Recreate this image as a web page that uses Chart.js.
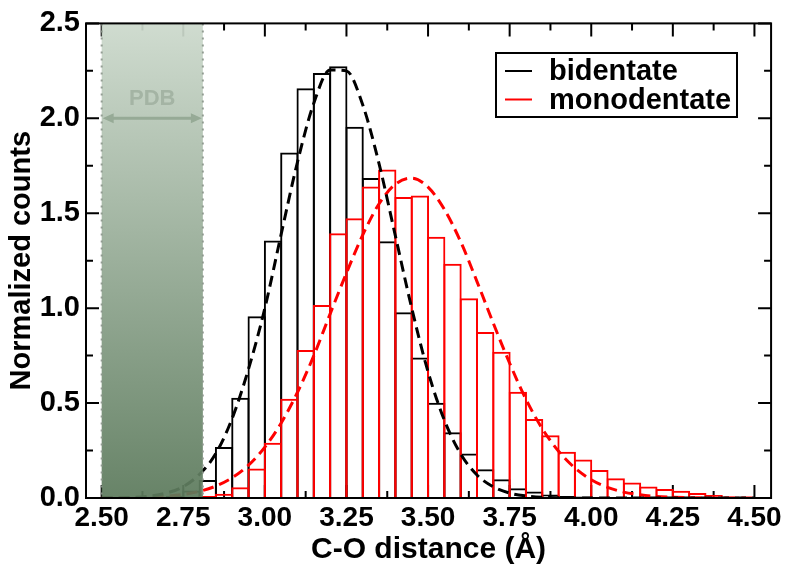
<!DOCTYPE html>
<html>
<head>
<meta charset="utf-8">
<script src="https://cdn.jsdelivr.net/npm/chart.js@4.4.1/dist/chart.umd.min.js"></script>
<style>
html,body{margin:0;padding:0;background:#fff;}
#wrap{width:785px;height:569px;}
</style>
</head>
<body>
<div id="wrap"><canvas id="c" width="785" height="569"></canvas></div>
<script>
// ---- data ----
const seriesLabels = ['bidentate', 'monodentate'];
const binCenters = [2.725, 2.775, 2.825, 2.875, 2.925, 2.975, 3.025, 3.075, 3.125, 3.175,
  3.225, 3.275, 3.325, 3.375, 3.425, 3.475, 3.525, 3.575, 3.625, 3.675,
  3.725, 3.775, 3.825, 3.875, 3.925, 3.975, 4.025, 4.075, 4.125, 4.175,
  4.225, 4.275, 4.325, 4.375, 4.425, 4.475, 4.525];
const bidentateCounts = [0.01, 0.04, 0.095, 0.268, 0.528, 0.958, 1.357, 1.82, 2.158, 2.239,
  2.274, 1.955, 1.686, 1.352, 0.979, 0.74, 0.502, 0.346, 0.234, 0.151,
  0.099, 0.052, 0.034, 0.018, 0.01, 0.008, 0.005, 0.003, 0.002, 0.001,
  0.001, null, null, null, null, null, null];
const monodentateCounts = [null, 0.005, 0.01, 0.022, 0.057, 0.156, 0.291, 0.523, 0.78, 1.017,
  1.395, 1.473, 1.641, 1.73, 1.586, 1.593, 1.376, 1.234, 1.052, 0.874,
  0.771, 0.56, 0.416, 0.331, 0.244, 0.203, 0.147, 0.104, 0.081, 0.06,
  0.047, 0.038, 0.026, 0.016, 0.008, 0.004, 0.002];
const fitX = [2.50, 2.55, 2.60, 2.65, 2.70, 2.75, 2.80, 2.85, 2.90, 2.95,
  3.00, 3.05, 3.10, 3.15, 3.20, 3.25, 3.30, 3.35, 3.40, 3.45,
  3.50, 3.55, 3.60, 3.65, 3.70, 3.75, 3.80, 3.85, 3.90, 3.95,
  4.00, 4.05, 4.10, 4.15, 4.20, 4.25, 4.30, 4.35, 4.40, 4.45, 4.50];
const bidentateFit = [0.0005, 0.0015, 0.004, 0.011, 0.027, 0.06, 0.125, 0.235, 0.42, 0.68,
  1.0, 1.39, 1.77, 2.08, 2.255, 2.25, 2.07, 1.76, 1.38, 1.0,
  0.665, 0.41, 0.232, 0.121, 0.059, 0.026, 0.011, 0.004, 0.0015, 0.0005,
  0.0002, 0, 0, 0, 0, 0, 0, 0, 0, 0, 0];
const monodentateFit = [0.0004, 0.001, 0.002, 0.005, 0.01, 0.019, 0.035, 0.063, 0.107, 0.173,
  0.268, 0.395, 0.557, 0.75, 0.97, 1.185, 1.386, 1.55, 1.653, 1.685,
  1.638, 1.52, 1.35, 1.14, 0.92, 0.71, 0.52, 0.365, 0.246, 0.158,
  0.096, 0.056, 0.031, 0.017, 0.008, 0.004, 0.002, 0.001, 0.0004, 0.0002, 0.0001];
const xMajorTicks = [2.50, 2.75, 3.00, 3.25, 3.50, 3.75, 4.00, 4.25, 4.50];
const xMinorTicks = [2.625, 2.875, 3.125, 3.375, 3.625, 3.875, 4.125, 4.375];
const yMajorTicks = [0.0, 0.5, 1.0, 1.5, 2.0, 2.5];
const yMinorTicks = [0.25, 0.75, 1.25, 1.75, 2.25];
const xRange = [2.452, 4.551];
const yRange = [0, 2.5];
const pdbRange = [2.50, 2.81];
const pdbText = 'PDB';
const pdbLabelY = 2.10;
const pdbArrowY = 2.0;
const xTitle = 'C-O distance (Å)';
const yTitle = 'Normalized counts';

// ---- style ----
const FONT = "'Liberation Sans', Arial, Helvetica, sans-serif";
const RED = '#ff0000';
const BLACK = '#000000';
const BAR_LINE = 2;

const allX = xMajorTicks.concat(xMinorTicks).sort((a, b) => a - b);
const allY = yMajorTicks.concat(yMinorTicks).sort((a, b) => a - b);

const frameTicks = {
  id: 'frameTicks',
  beforeDatasetsDraw(chart) {
    const {ctx, chartArea: a, scales: {x, y}} = chart;
    ctx.save();
    ctx.strokeStyle = '#000';
    ctx.lineWidth = 2;
    ctx.beginPath();
    allX.forEach(v => {
      const p = x.getPixelForValue(v);
      const L = xMajorTicks.includes(v) ? 13 : 7;
      ctx.moveTo(p, a.bottom); ctx.lineTo(p, a.bottom - L);
      ctx.moveTo(p, a.top); ctx.lineTo(p, a.top + L);
    });
    allY.forEach(v => {
      const p = y.getPixelForValue(v);
      const L = yMajorTicks.includes(v) ? 13 : 7;
      ctx.moveTo(a.left, p); ctx.lineTo(a.left + L, p);
      ctx.moveTo(a.right, p); ctx.lineTo(a.right - L, p);
    });
    ctx.stroke();
    ctx.restore();
  },
  afterDatasetsDraw(chart) {
    const {ctx, chartArea: a, scales: {x, y}} = chart;
    const x0 = x.getPixelForValue(pdbRange[0]);
    const x1 = x.getPixelForValue(pdbRange[1]);
    ctx.save();
    const g = ctx.createLinearGradient(0, a.top, 0, a.bottom);
    g.addColorStop(0, 'rgba(204,217,204,0.93)');
    g.addColorStop(1, 'rgba(92,122,92,0.93)');
    ctx.fillStyle = g;
    ctx.fillRect(x0, a.top, x1 - x0, a.bottom - a.top);
    ctx.setLineDash([2, 5]);
    ctx.strokeStyle = 'rgba(140,150,140,0.9)';
    ctx.lineWidth = 2;
    ctx.beginPath();
    ctx.moveTo(x0, a.top); ctx.lineTo(x0, a.bottom);
    ctx.moveTo(x1, a.top); ctx.lineTo(x1, a.bottom);
    ctx.stroke();
    ctx.setLineDash([]);
    ctx.fillStyle = 'rgb(164,180,164)';
    ctx.font = 'bold 22px ' + FONT;
    ctx.textAlign = 'center';
    ctx.textBaseline = 'middle';
    ctx.fillText(pdbText, (x0 + x1) / 2, y.getPixelForValue(pdbLabelY));
    const ay = y.getPixelForValue(pdbArrowY);
    ctx.strokeStyle = 'rgb(150,170,150)';
    ctx.fillStyle = 'rgb(150,170,150)';
    ctx.lineWidth = 3;
    ctx.beginPath();
    ctx.moveTo(x0 + 6, ay); ctx.lineTo(x1 - 6, ay);
    ctx.stroke();
    ctx.beginPath();
    ctx.moveTo(x0 + 1, ay); ctx.lineTo(x0 + 12, ay - 5); ctx.lineTo(x0 + 12, ay + 5); ctx.closePath();
    ctx.moveTo(x1 - 1, ay); ctx.lineTo(x1 - 12, ay - 5); ctx.lineTo(x1 - 12, ay + 5); ctx.closePath();
    ctx.fill();
    ctx.restore();
  },
  afterDraw(chart) {
    const {ctx, chartArea: a} = chart;
    ctx.save();
    ctx.strokeStyle = '#000';
    ctx.lineWidth = 2;
    ctx.strokeRect(a.left, a.top, a.right - a.left, a.bottom - a.top);
    const bx = 496, by = 53, bw = 241, bh = 64;
    ctx.fillStyle = '#fff';
    ctx.fillRect(bx, by, bw, bh);
    ctx.strokeRect(bx, by, bw, bh);
    const entries = [chart.data.datasets[3], chart.data.datasets[2]];
    entries.forEach((ds, i) => {
      const ly = 71 + i * 28.5;
      ctx.strokeStyle = ds.borderColor;
      ctx.lineWidth = 2;
      ctx.beginPath();
      ctx.moveTo(505, ly); ctx.lineTo(532, ly);
      ctx.stroke();
      ctx.fillStyle = '#000';
      ctx.font = 'bold 29px ' + FONT;
      ctx.textAlign = 'left';
      ctx.textBaseline = 'alphabetic';
      ctx.fillText(ds.label, 549, 80 + i * 29);
    });
    ctx.restore();
  }
};

// bars are widened by one border width so that neighbouring outlines overlap (shared edges)
const barPct = ctx => {
  const s = ctx.chart.scales.x;
  const w = Math.abs(s.getPixelForValue(binCenters[1]) - s.getPixelForValue(binCenters[0]));
  return w > 0 ? (w + BAR_LINE) / w : 1;
};

const barCommon = {
  type: 'bar',
  backgroundColor: 'rgba(0,0,0,0)',
  borderWidth: {top: BAR_LINE, left: BAR_LINE, right: BAR_LINE, bottom: 0},
  borderSkipped: 'start',
  barPercentage: barPct,
  categoryPercentage: 1,
  grouped: false,
  inflateAmount: 0
};
const lineCommon = {
  type: 'line',
  borderWidth: 3,
  borderDash: [11, 6],
  pointRadius: 0,
  fill: false,
  cubicInterpolationMode: 'monotone'
};

new Chart(document.getElementById('c'), {
  type: 'bar',
  data: {
    datasets: [
      Object.assign({}, lineCommon, {label: seriesLabels[0] + ' fit', borderColor: BLACK,
        data: fitX.map((v, i) => ({x: v, y: bidentateFit[i]})), order: 0}),
      Object.assign({}, lineCommon, {label: seriesLabels[1] + ' fit', borderColor: RED,
        data: fitX.map((v, i) => ({x: v, y: monodentateFit[i]})), order: 0}),
      Object.assign({}, barCommon, {label: seriesLabels[1], borderColor: RED,
        data: binCenters.map((v, i) => ({x: v, y: monodentateCounts[i]})), order: 1}),
      Object.assign({}, barCommon, {label: seriesLabels[0], borderColor: BLACK,
        data: binCenters.map((v, i) => ({x: v, y: bidentateCounts[i]})), order: 2})
    ]
  },
  options: {
    responsive: false,
    animation: false,
    devicePixelRatio: 1,
    layout: {padding: {left: 0, top: 18, right: 13, bottom: 0}},
    plugins: {legend: {display: false}, tooltip: {enabled: false}},
    scales: {
      x: {
        type: 'linear', offset: false, min: xRange[0], max: xRange[1],
        afterBuildTicks: s => { s.ticks = allX.map(v => ({value: v})); },
        afterFit: s => { s.height = 71; },
        grid: {display: false, drawTicks: false, offset: false},
        border: {display: false},
        ticks: {
          autoSkip: false, maxRotation: 0, minRotation: 0, padding: 3, color: '#000',
          font: {family: FONT, size: 28, weight: 'bold'},
          callback: v => xMajorTicks.includes(v) ? v.toFixed(2) : ''
        },
        title: {display: true, text: xTitle, color: '#000',
          font: {family: FONT, size: 30, weight: 'bold'}, padding: {top: 0, bottom: 1}}
      },
      y: {
        type: 'linear', min: yRange[0], max: yRange[1],
        afterBuildTicks: s => { s.ticks = allY.map(v => ({value: v})); },
        afterFit: s => { s.width = 86; },
        grid: {display: false, drawTicks: false},
        border: {display: false},
        ticks: {
          autoSkip: false, padding: 6, color: '#000',
          font: {family: FONT, size: 29, weight: 'bold'},
          callback: v => yMajorTicks.includes(v) ? v.toFixed(1) : ''
        },
        title: {display: true, text: yTitle, color: '#000',
          font: {family: FONT, size: 29, weight: 'bold'}, padding: {top: 5, bottom: 0}}
      }
    }
  },
  plugins: [frameTicks]
});
</script>
</body>
</html>
